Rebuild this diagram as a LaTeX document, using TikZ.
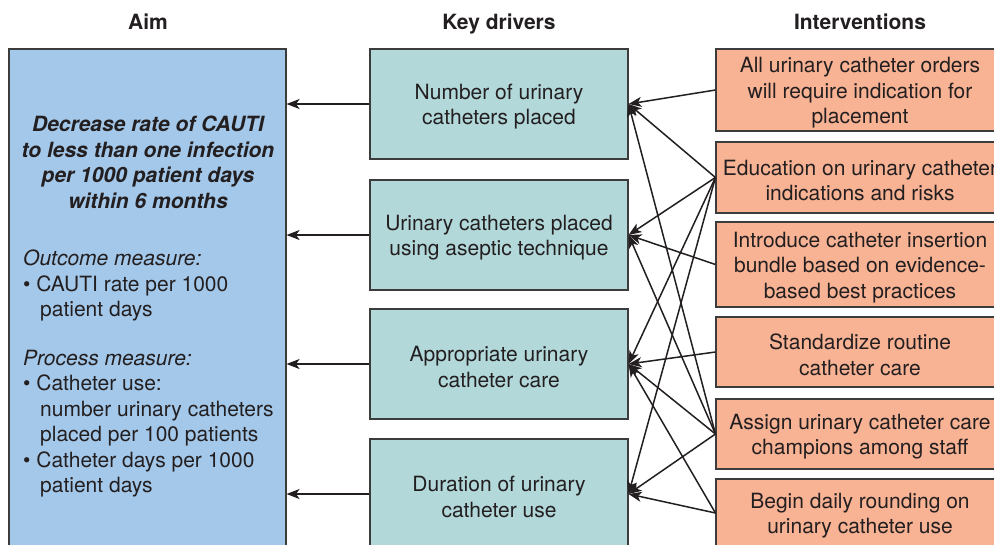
\documentclass[tikz,border=0pt]{standalone}
\usepackage{fontspec}
\setmainfont{TeX Gyre Heros}
\usetikzlibrary{arrows.meta}
\definecolor{aimblue}{RGB}{164,200,234}
\definecolor{drvteal}{RGB}{178,216,218}
\definecolor{intsalmon}{RGB}{248,178,148}
\definecolor{ink}{RGB}{35,31,32}
\definecolor{edgegray}{RGB}{60,60,60}
% invisible strut that gives the first line of a box a little more room above
\newcommand\dkTopGap{\rule{0pt}{21pt}}

\begin{document}
\begin{tikzpicture}[x=1pt,y=-1pt,
  font=\fontsize{21}{25.5}\selectfont, text=ink,
  box/.style={draw=edgegray, line width=1.1pt, inner sep=0pt, align=center},
  aimbox/.style={box, fill=aimblue},
  drvbox/.style={box, fill=drvteal, minimum width=258pt, minimum height=110pt},
  intbox/.style={box, fill=intsalmon, minimum width=288pt},
  head/.style={font=\fontsize{21}{25}\selectfont\bfseries, anchor=base, inner sep=0pt},
  plain/.style={inner sep=0pt},
  arr/.style={draw=ink, line width=1.5pt, -{Stealth[length=13pt,width=10pt,inset=3.5pt]}}
]
\useasboundingbox (0,0) rectangle (994,544);
\fill[white] (0,0) rectangle (994,544);
\clip (0,0) rectangle (994,544);

% column headings
\node[head] (haim) at (148,29) {Aim};
\node[head] (hdrv) at (499,29) {Key drivers};
\node[head] (hint) at (860,29) {Interventions};

% aim
\node[aimbox, minimum width=277pt, minimum height=520pt] (aim) at (147.5,309) {};
\node[plain, font=\fontsize{21}{25.5}\selectfont\bfseries\itshape, align=center, anchor=north] (goal) at (148,116)
  {Decrease rate of CAUTI\\to less than one infection\\per 1000 patient days\\within 6 months};
\node[plain, align=left, anchor=north west] (outcome) at (23,250)
  {\textit{Outcome measure:}\\\textbullet\ CAUTI rate per 1000\\\hspace*{17pt}patient days};
\node[plain, align=left, anchor=north west] (process) at (23,349.5)
  {\textit{Process measure:}\\\textbullet\ Catheter use:\\\hspace*{17pt}number urinary catheters\\\hspace*{17pt}placed per 100 patients\\\textbullet\ Catheter days per 1000\\\hspace*{17pt}patient days};

% key drivers
\node[drvbox] (d1) at (499,104) {\dkTopGap Number of urinary\\catheters placed};
\node[drvbox] (d2) at (499,235) {\dkTopGap Urinary catheters placed\\using aseptic technique};
\node[drvbox] (d3) at (499,364) {\dkTopGap Appropriate urinary\\catheter care};
\node[drvbox] (d4) at (499,494) {\dkTopGap Duration of urinary\\catheter use};

% interventions
\node[intbox, minimum height=82pt] (i1) at (860,90) {\dkTopGap All urinary catheter orders\\will require indication for\\placement};
\node[intbox, minimum height=71pt] (i2) at (860,177.5) {\dkTopGap Education on urinary catheter\\indications and risks};
\node[intbox, minimum height=85pt] (i3) at (860,264.5) {\dkTopGap Introduce catheter insertion\\bundle based on evidence-\\based best practices};
\node[intbox, minimum height=70pt] (i4) at (860,352) {\dkTopGap Standardize routine\\catheter care};
\node[intbox, minimum height=70pt] (i5) at (860,434) {\dkTopGap Assign urinary catheter care\\champions among staff};
\node[intbox, minimum height=68pt] (i6) at (860,513) {\dkTopGap Begin daily rounding on\\urinary catheter use};

% drivers feed the aim
\foreach \d in {d1,d2,d3,d4}
  \draw[arr] (\d.west) -- (\d.west -| aim.east);

% interventions act on drivers
\draw[arr] (i1.west) -- (d1.east);
\foreach \d in {d1,d2,d3,d4}
  \draw[arr] (i2.west) -- (\d.east);
\draw[arr] (i3.west) -- (d2.east);
\draw[arr] (i4.west) -- (d3.east);
\foreach \d in {d1,d2,d3,d4}
  \draw[arr] (i5.west) -- (\d.east);
\draw[arr] (i6.west) -- (d3.east);
\draw[arr] (i6.west) -- (d4.east);
\end{tikzpicture}
\end{document}
